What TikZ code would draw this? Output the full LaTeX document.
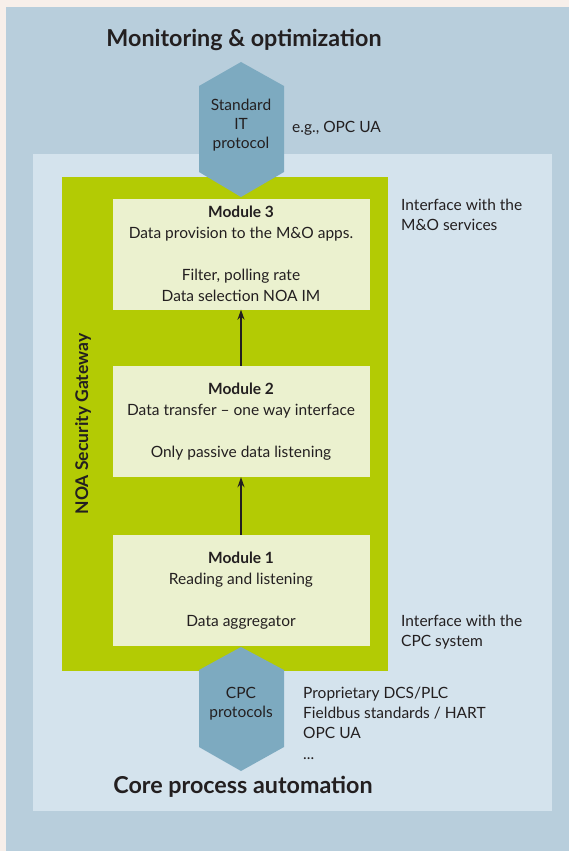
\documentclass[tikz,border=0pt]{standalone}
\usepackage{fontspec}
\setmainfont{Lato}
\usetikzlibrary{arrows.meta}

\definecolor{paper}{HTML}{F7EFEA}
\definecolor{outerblue}{HTML}{B8CEDC}
\definecolor{innerblue}{HTML}{D4E3ED}
\definecolor{gwgreen}{HTML}{B3CB04}
\definecolor{modfill}{HTML}{EBF1CF}
\definecolor{hexblue}{HTML}{7DAAC0}
\definecolor{ink}{HTML}{231F20}

\begin{document}
\begin{tikzpicture}[x=1pt, y=-1pt, >={Stealth[length=10pt, width=7pt]},
  module/.style={fill=modfill, minimum width=257pt, minimum height=111pt,
    inner sep=0pt, align=center, text=ink, font=\fontsize{15.5}{21}\selectfont},
  note/.style={anchor=west, inner sep=0pt, align=left, text=ink,
    font=\fontsize{15.5}{20.3}\selectfont},
  hexlabel/.style={inner sep=0pt, align=center, text=ink,
    font=\fontsize{15.5}{19}\selectfont},
  heading/.style={inner sep=0pt, text=ink, font=\fontsize{23.3}{26}\selectfont\bfseries},
  flow/.style={->, line width=1.3pt, ink}]

\useasboundingbox (0,0) rectangle (569,851);

% backgrounds
\fill[paper] (0,0) rectangle (569,851);
\fill[outerblue] (6,7) rectangle (569,851);
\fill[innerblue] (33,154) rectangle (552,811);
\fill[gwgreen] (62,177) rectangle (388,671);

% protocol hexagons
\fill[hexblue] (241,62) -- (284,86) -- (284,172) -- (241,197) -- (199,172) -- (199,86) -- cycle;
\fill[hexblue] (241,647) -- (284,670) -- (284,747) -- (241,771) -- (199,747) -- (199,670) -- cycle;

\node[heading] (mo) at (244,40) {Monitoring \& optimization};
\node[hexlabel] (itproto) at (241,125) {Standard\\IT\\protocol};
\node[note] (opcua) at (292,128) {e.g., OPC UA};

\node[module] (m3) at (241,254) {\textbf{Module 3}\\Data provision to the M\&O apps.\\[21pt]Filter, polling rate\\Data selection NOA IM};
\node[module] (m2) at (241,421.5) {\textbf{Module 2}\\Data transfer -- one way interface\\[21pt]Only passive data listening};
\node[module] (m1) at (241,590.5) {\textbf{Module 1}\\Reading and listening\\[21pt]Data aggregator};

\draw[flow] (m1) -- (m2);
\draw[flow] (m2) -- (m3);

\node[rotate=90, inner sep=0pt, text=ink, font=\fontsize{17.5}{20}\selectfont\bfseries] (gw) at (83,424) {NOA Security Gateway};

\node[note] (ifmo) at (401,215) {Interface with the\\M\&O services};
\node[note] (ifcpc) at (401,632) {Interface with the\\CPC system};

\node[hexlabel] (cpcproto) at (241,704) {CPC\\protocols};
\node[note] (buses) at (303,723) {Proprietary DCS/PLC\\Fieldbus standards / HART\\OPC UA\\...};

\node[heading] (cpa) at (243,787) {Core process automation};

\end{tikzpicture}
\end{document}
